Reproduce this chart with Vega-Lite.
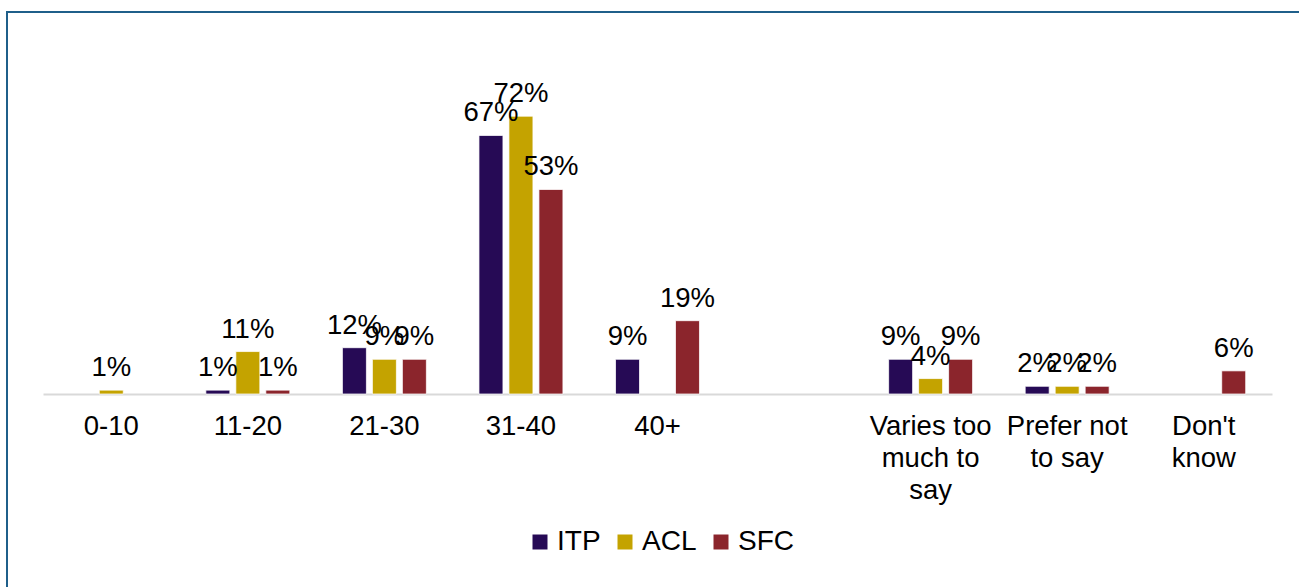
{
  "$schema": "https://vega.github.io/schema/vega-lite/v6.json",
  "autosize": {"type": "none"},
  "padding": {"left": 7, "top": 12, "right": 0, "bottom": 0},
  "width": 1300,
  "height": 585,
  "background": "white",
  "config": {
    "font": "Liberation Sans",
    "view": {"stroke": "#1f5f8a", "strokeWidth": 2}
  },
  "data": {
    "values": [
      {"category": "0-10", "group": "ACL", "value": 0.01},
      {"category": "11-20", "group": "ITP", "value": 0.01},
      {"category": "11-20", "group": "ACL", "value": 0.11},
      {"category": "11-20", "group": "SFC", "value": 0.01},
      {"category": "21-30", "group": "ITP", "value": 0.12},
      {"category": "21-30", "group": "ACL", "value": 0.09},
      {"category": "21-30", "group": "SFC", "value": 0.09},
      {"category": "31-40", "group": "ITP", "value": 0.67},
      {"category": "31-40", "group": "ACL", "value": 0.72},
      {"category": "31-40", "group": "SFC", "value": 0.53},
      {"category": "40+", "group": "ITP", "value": 0.09},
      {"category": "40+", "group": "SFC", "value": 0.19},
      {"category": "Varies too much to say", "group": "ITP", "value": 0.09},
      {"category": "Varies too much to say", "group": "ACL", "value": 0.04},
      {"category": "Varies too much to say", "group": "SFC", "value": 0.09},
      {"category": "Prefer not to say", "group": "ITP", "value": 0.02},
      {"category": "Prefer not to say", "group": "ACL", "value": 0.02},
      {"category": "Prefer not to say", "group": "SFC", "value": 0.02},
      {"category": "Don't know", "group": "SFC", "value": 0.06}
    ]
  },
  "encoding": {
    "x": {
      "field": "category",
      "type": "nominal",
      "sort": null,
      "scale": {
        "domain": ["0-10", "11-20", "21-30", "31-40", "40+", " ", "Varies too much to say", "Prefer not to say", "Don't know"],
        "range": [36, 1265],
        "paddingInner": 0,
        "paddingOuter": 0
      },
      "axis": {
        "title": null,
        "offset": -203,
        "labelAngle": 0,
        "labelFontSize": 27.5,
        "labelColor": "#000000",
        "labelPadding": 18,
        "labelLineHeight": 32,
        "labelBaseline": "top",
        "ticks": false,
        "domainColor": "#d9d9d9",
        "domainWidth": 2,
        "labelExpr": "datum.value == 'Varies too much to say' ? ['Varies too', 'much to', 'say'] : datum.value == 'Prefer not to say' ? ['Prefer not', 'to say'] : datum.value == \"Don't know\" ? [\"Don't\", 'know'] : datum.value"
      }
    },
    "xOffset": {
      "field": "group",
      "type": "nominal",
      "scale": {"domain": ["ITP", "ACL", "SFC"], "paddingInner": 0.2, "paddingOuter": 0.877}
    },
    "y": {
      "field": "value",
      "type": "quantitative",
      "scale": {"domain": [0, 0.99], "range": [382, 0], "nice": false, "zero": true},
      "axis": null
    }
  },
  "layer": [
    {
      "mark": {"type": "bar", "stroke": "white", "strokeWidth": 0.75},
      "encoding": {
        "color": {
          "field": "group",
          "type": "nominal",
          "scale": {"domain": ["ITP", "ACL", "SFC"], "range": ["#260a55", "#c4a300", "#8b252c"]},
          "legend": {
            "title": null,
            "orient": "none",
            "direction": "horizontal",
            "legendX": 519,
            "legendY": 516,
            "symbolType": "square",
            "symbolSize": 225,
            "symbolStrokeWidth": 0,
            "labelFontSize": 28,
            "labelColor": "#000000",
            "columnPadding": 10,
            "labelOffset": 3
          }
        }
      }
    },
    {
      "mark": {"type": "text", "baseline": "bottom", "align": "center", "dy": -8, "fontSize": 27.5, "color": "#000000"},
      "encoding": {
        "text": {"field": "value", "type": "quantitative", "format": ".0%"}
      }
    }
  ]
}
